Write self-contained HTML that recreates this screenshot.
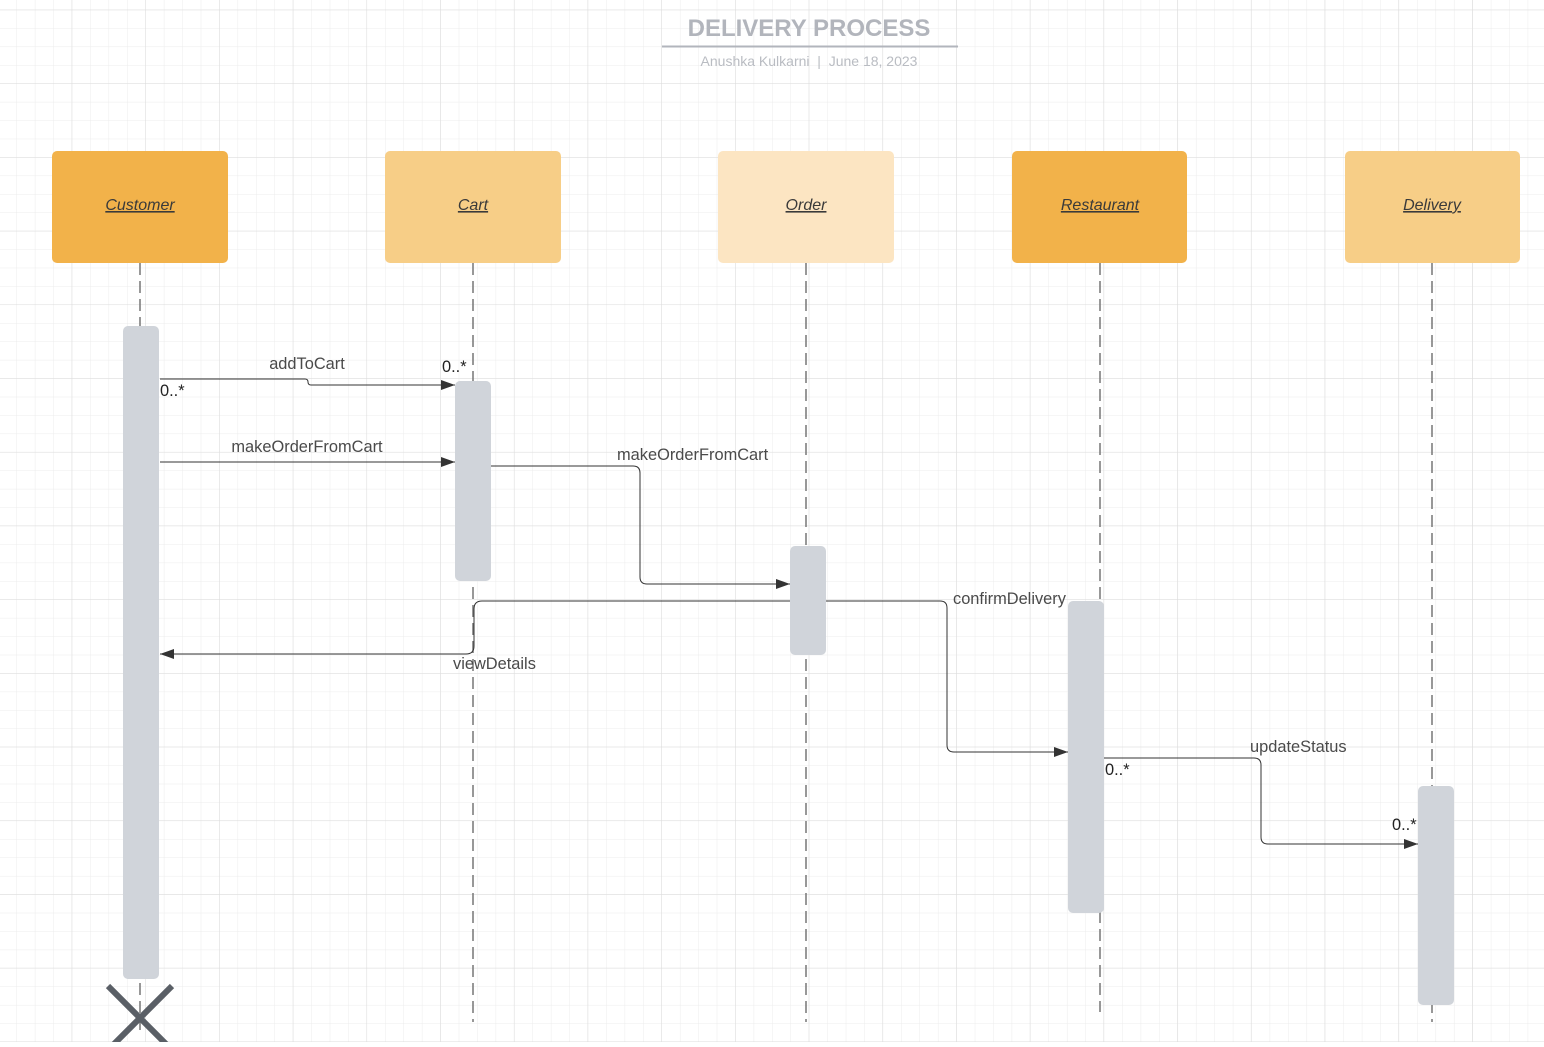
<!DOCTYPE html>
<html><head><style>
body{margin:0;width:1544px;height:1042px;overflow:hidden;background:#fff;font-family:"Liberation Sans",sans-serif}
</style></head><body>
<svg width="1544" height="1042" xmlns="http://www.w3.org/2000/svg" font-family="Liberation Sans, sans-serif">
<defs>
<pattern id="mi" x="-2" y="9.7" width="18.43" height="18.43" patternUnits="userSpaceOnUse"><path d="M0 0H18.43M0 0V18.43" stroke="#ececec" stroke-width="1" fill="none"/></pattern>
<pattern id="ma" x="-2" y="9.7" width="73.7" height="73.7" patternUnits="userSpaceOnUse"><path d="M0 0H73.7M0 0V73.7" stroke="#dcdcdc" stroke-width="1" fill="none"/></pattern>
<marker id="ah" markerWidth="14" markerHeight="10" refX="14" refY="5" orient="auto" markerUnits="userSpaceOnUse"><path d="M0 0L14 5L0 10Z" fill="#333"/></marker>
</defs>
<rect width="1544" height="1042" fill="url(#mi)"/>
<rect width="1544" height="1042" fill="url(#ma)"/>
<text x="809" y="36" text-anchor="middle" font-size="24" font-weight="bold" fill="#b2b5bc">DELIVERY PROCESS</text>
<line x1="662" y1="46.5" x2="958" y2="46.5" stroke="#b2b5bc" stroke-width="2"/>
<text x="809" y="66" text-anchor="middle" font-size="14" fill="#b9bcc2">Anushka Kulkarni&#160;&#160;|&#160;&#160;June 18, 2023</text>
<g stroke="#777" stroke-width="1.5" stroke-dasharray="12,6">
<line x1="140" y1="263" x2="140" y2="1030"/><line x1="473" y1="263" x2="473" y2="1022"/><line x1="806" y1="263" x2="806" y2="1022"/><line x1="1100" y1="263" x2="1100" y2="1012"/><line x1="1432" y1="263" x2="1432" y2="1022"/>
</g>
<g font-size="16" font-style="italic" text-decoration="underline" fill="#3a3a3a" text-anchor="middle">
<rect x="52" y="151" width="176" height="112" rx="5" fill="#f2b24a"/><text x="140" y="210">Customer</text>
<rect x="385" y="151" width="176" height="112" rx="5" fill="#f7ce87"/><text x="473" y="210">Cart</text>
<rect x="718" y="151" width="176" height="112" rx="5" fill="#fce5c2"/><text x="806" y="210">Order</text>
<rect x="1012" y="151" width="175" height="112" rx="5" fill="#f2b24a"/><text x="1100" y="210">Restaurant</text>
<rect x="1345" y="151" width="175" height="112" rx="5" fill="#f7ce87"/><text x="1432" y="210">Delivery</text>
</g>
<g fill="#d0d4da">
<rect x="123" y="326" width="36" height="653" rx="5"/>
<rect x="455" y="381" width="36" height="200" rx="5"/>
<rect x="790" y="546" width="36" height="109" rx="5"/>
<rect x="1068" y="601" width="36" height="312" rx="5"/>
<rect x="1418" y="786" width="36" height="219" rx="5"/>
</g>
<g fill="none" stroke="#333" stroke-width="1">
<path d="M160 379H305Q308 379 308 382Q308 385 311 385H455" marker-end="url(#ah)"/>
<path d="M160 462H455" marker-end="url(#ah)"/>
<path d="M491 466H633Q640 466 640 473V577Q640 584 647 584H790" marker-end="url(#ah)"/>
<path d="M790 601H482Q474 601 474 609V646Q474 654 466 654H160" marker-end="url(#ah)"/>
<path d="M826 601H940Q947 601 947 608V745Q947 752 954 752H1068" marker-end="url(#ah)"/>
<path d="M1104 758H1254Q1261 758 1261 765V837Q1261 844 1268 844H1418" marker-end="url(#ah)"/>
</g>
<g font-size="16.4" fill="#4a4a4a">
<text x="307" y="369" text-anchor="middle">addToCart</text>
<text x="307" y="452" text-anchor="middle">makeOrderFromCart</text>
<text x="617" y="460">makeOrderFromCart</text>
<text x="453" y="669">viewDetails</text>
<text x="953" y="604">confirmDelivery</text>
<text x="1250" y="752">updateStatus</text>
</g>
<g font-size="16.4" fill="#222">
<text x="160" y="396">0..*</text>
<text x="442" y="372">0..*</text>
<text x="1105" y="775">0..*</text>
<text x="1392" y="830">0..*</text>
</g>
<g stroke="#5a5f66" stroke-width="6">
<line x1="108" y1="986" x2="172" y2="1050"/><line x1="172" y1="986" x2="108" y2="1050"/>
</g>
</svg>
</body></html>
